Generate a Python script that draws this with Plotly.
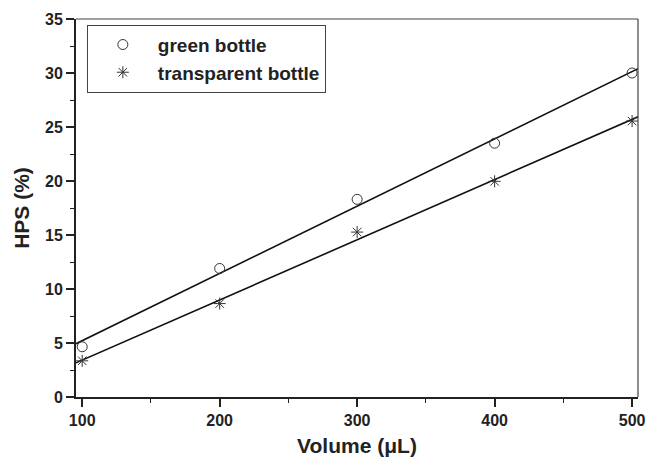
import numpy as np
import plotly.graph_objects as go

volume = [100, 200, 300, 400, 500]
green_bottle = [4.65, 11.9, 18.3, 23.5, 30.0]
transparent_bottle = [3.35, 8.65, 15.27, 19.97, 25.55]
series_names = ["green bottle", "transparent bottle"]
x_range = [95.5, 504.3]
y_range = [0, 35]

fig = go.Figure()

fit_x = np.array(x_range)
for ys in (green_bottle, transparent_bottle):
    k, b = np.polyfit(volume, ys, 1)
    fig.add_trace(go.Scatter(x=fit_x, y=k * fit_x + b, mode="lines",
                             line=dict(color="#111", width=1.6),
                             showlegend=False, hoverinfo="skip"))

fig.add_trace(go.Scatter(x=volume, y=green_bottle, mode="markers", name=series_names[0],
                         marker=dict(symbol="circle-open", size=10, color="#333",
                                     line=dict(width=1, color="#333"))))
fig.add_trace(go.Scatter(x=volume, y=transparent_bottle, mode="markers", name=series_names[1],
                         marker=dict(symbol="asterisk-open", size=10, color="#333",
                                     line=dict(width=1, color="#333"))))

fam = "Liberation Sans, Arial, sans-serif"
tickfont = dict(family=fam, size=16, color="#222", weight="bold")
titlefont = dict(family=fam, size=21, color="#222", weight="bold")

fig.update_xaxes(range=x_range, tickmode="array", tickvals=volume,
                 ticks="outside", ticklen=8, tickwidth=1.5, tickcolor="#222",
                 minor=dict(ticks="outside", ticklen=4, tickwidth=1.2, tickcolor="#222", dtick=50, tick0=0),
                 showline=True, linewidth=2, linecolor="#222", mirror=False,
                 showgrid=False, zeroline=False, tickfont=tickfont,
                 title=dict(text="Volume (\u03bcL)", font=titlefont, standoff=10))
fig.update_yaxes(range=y_range, dtick=5, tick0=0,
                 ticks="outside", ticklen=8, tickwidth=1.5, tickcolor="#222",
                 minor=dict(ticks="outside", ticklen=4, tickwidth=1.2, tickcolor="#222", dtick=2.5, tick0=0),
                 showline=True, linewidth=2, linecolor="#222", mirror=False,
                 showgrid=False, zeroline=False, tickfont=tickfont,
                 title=dict(text="HPS (%)", font=titlefont, standoff=10))

# thin top and right frame lines
fig.add_shape(type="line", xref="paper", yref="paper", x0=0, x1=1, y0=1, y1=1,
              line=dict(color="#444", width=1.2))
fig.add_shape(type="line", xref="paper", yref="paper", x0=1, x1=1, y0=0, y1=1,
              line=dict(color="#444", width=1.2))

fig.update_layout(
    width=654, height=463,
    margin=dict(l=76, r=9, t=19, b=65),
    plot_bgcolor="white", paper_bgcolor="white",
    legend=dict(x=0.0193, y=0.985, xanchor="left", yanchor="top",
                bordercolor="#444", borderwidth=1, bgcolor="white",
                itemwidth=60, tracegroupgap=0,
                font=dict(family=fam, size=19, color="#222", weight="bold")),
)

fig.write_html("out.html")
